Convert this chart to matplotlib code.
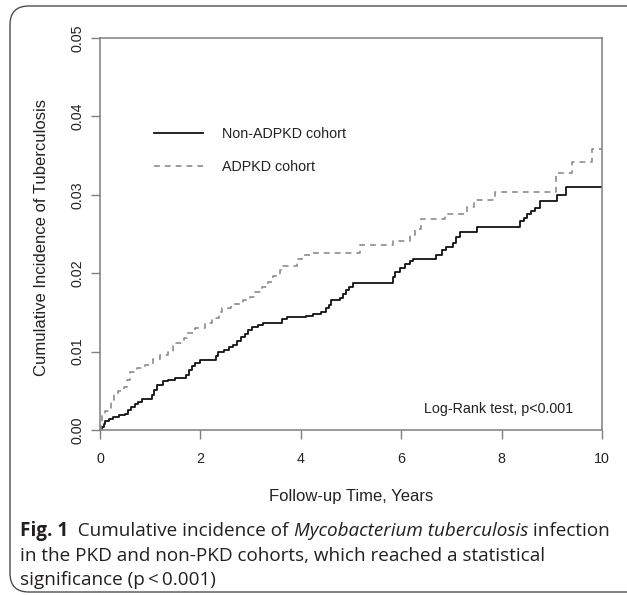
import matplotlib
matplotlib.use('Agg')
import matplotlib.pyplot as plt
from matplotlib.patches import FancyBboxPatch

# cumulative incidence of tuberculosis
non_adpkd_t = [0, 0.03, 0.07, 0.10, 0.18, 0.26, 0.38, 0.50, 0.56, 0.62, 0.70, 0.76, 0.84,
               1.04, 1.08, 1.13, 1.25, 1.36, 1.50, 1.72, 1.78, 1.84, 1.90, 2.00, 2.32,
               2.36, 2.48, 2.56, 2.65, 2.72, 2.80, 2.88, 2.95, 3.03, 3.15, 3.25, 3.62,
               3.72, 4.10, 4.25, 4.40, 4.50, 4.56, 4.60, 4.78, 4.84, 4.90, 4.96, 5.04,
               5.84, 5.87, 5.98, 6.08, 6.18, 6.24, 6.70, 6.82, 6.90, 7.03, 7.10, 7.17,
               7.51, 8.37, 8.44, 8.50, 8.58, 8.66, 8.76, 9.10, 9.28, 10.0]
non_adpkd_y = [0, 0.0004, 0.0008, 0.0011, 0.0014, 0.0017, 0.0019, 0.0021, 0.0025, 0.0029,
               0.0033, 0.0036, 0.0040, 0.0045, 0.0051, 0.0058, 0.0062, 0.0064, 0.0066,
               0.0070, 0.0077, 0.0081, 0.0085, 0.0089, 0.0094, 0.0099, 0.0102, 0.0106,
               0.0109, 0.0114, 0.0118, 0.0123, 0.0127, 0.0131, 0.0134, 0.0137, 0.0141,
               0.0144, 0.0146, 0.0148, 0.0151, 0.0155, 0.0159, 0.0166, 0.0168, 0.0174,
               0.0178, 0.0183, 0.0188, 0.0195, 0.0202, 0.0207, 0.0212, 0.0215, 0.0218,
               0.0223, 0.0229, 0.0234, 0.0239, 0.0246, 0.0253, 0.0259, 0.0267, 0.0271,
               0.0275, 0.0279, 0.0283, 0.0292, 0.0300, 0.0310, 0.0310]

adpkd_t = [0, 0.01, 0.04, 0.10, 0.17, 0.22, 0.27, 0.35, 0.47, 0.53, 0.60, 0.73, 0.90,
           1.06, 1.20, 1.36, 1.46, 1.68, 1.73, 1.90, 2.10, 2.23, 2.38, 2.43, 2.60, 2.85,
           2.99, 3.09, 3.23, 3.35, 3.45, 3.59, 3.65, 3.92, 4.02, 4.18, 5.18, 5.84, 6.17,
           6.28, 6.40, 6.88, 7.31, 7.45, 7.87, 9.08, 9.40, 9.80, 10.0]
adpkd_y = [0, 0.0009, 0.0020, 0.0024, 0.0028, 0.0036, 0.0045, 0.0050, 0.0055, 0.0064,
           0.0074, 0.0079, 0.0083, 0.0090, 0.0096, 0.0100, 0.0111, 0.0117, 0.0124,
           0.0130, 0.0136, 0.0143, 0.0150, 0.0156, 0.0161, 0.0166, 0.0170, 0.0176,
           0.0183, 0.0189, 0.0197, 0.0204, 0.0209, 0.0218, 0.0223, 0.0226, 0.0236,
           0.0241, 0.0249, 0.0257, 0.0269, 0.0276, 0.0285, 0.0294, 0.0304, 0.0328,
           0.0342, 0.0358, 0.0358]

x_ticks = [0, 2, 4, 6, 8, 10]
y_ticks = [0.00, 0.01, 0.02, 0.03, 0.04, 0.05]
y_tick_labels = ['0.00', '0.01', '0.02', '0.03', '0.04', '0.05']
series_labels = ['Non-ADPKD cohort', 'ADPKD cohort']

W, H = 627, 595
fig = plt.figure(figsize=(W / 100, H / 100), dpi=100)

# rounded frame around figure + caption (runs off the right edge)
frame = FancyBboxPatch((10 / W, 3 / H), 640 / W, 586 / H,
                       boxstyle='round,pad=0,rounding_size=0.03',
                       transform=fig.transFigure, fill=False,
                       edgecolor='#4d4d4d', lw=1.0, mutation_aspect=W / H)
fig.patches.append(frame)

plot_font = 'Liberation Sans'
fs = 10.3
lab_fs = 12.0
grey = '#7f7f7f'
ink = '#222222'

ax = fig.add_axes([100 / W, 1 - 430 / H, 502 / W, 392 / H])
ax.step(non_adpkd_t, non_adpkd_y, where='post', color='#111111', lw=1.3,
        label=series_labels[0])
ax.step(adpkd_t, adpkd_y, where='post', color='#8c8c8c', lw=1.2,
        linestyle=(0, (3.5, 3.0)), label=series_labels[1])

ax.set_xlim(0, 10)
ax.set_ylim(0, 0.05)
ax.set_xticks(x_ticks)
ax.set_xticklabels([str(v) for v in x_ticks], fontfamily=plot_font, fontsize=fs,
                   color=ink)
ax.set_yticks(y_ticks)
ax.set_yticklabels(y_tick_labels, fontfamily=plot_font, fontsize=fs,
                   color=ink, rotation=90, va='center')
ax.tick_params(direction='out', length=6.5, width=1.0, color=grey)
ax.tick_params(axis='x', pad=9)
ax.tick_params(axis='y', pad=5)
for s in ax.spines.values():
    s.set_color(grey)
    s.set_linewidth(1.1)

leg = ax.legend(loc='upper left', bbox_to_anchor=(0.094, 0.79), frameon=False,
                prop={'family': plot_font, 'size': fs}, handlelength=3.4,
                handletextpad=1.35, labelspacing=1.3, borderpad=0)
for t in leg.get_texts():
    t.set_color(ink)

ax.text(0.942, 0.054, 'Log-Rank test, p<0.001', transform=ax.transAxes,
        ha='right', va='center', fontfamily=plot_font, fontsize=fs, color=ink)

fig.text(351 / W, 1 - 497 / H, 'Follow-up Time, Years', ha='center', va='center',
         fontfamily=plot_font, fontsize=lab_fs, color=ink)
fig.text(42 / W, 1 - 238 / H, 'Cumulative Incidence of Tuberculosis', ha='center',
         va='center', rotation=90, fontfamily=plot_font, fontsize=lab_fs, color=ink)

# caption, pieces placed one after the other
cap_font = 'Open Sans'
cap_fs = 13.6
cap_lines = [
    [('Fig. 1', 'bold', 'normal'), ('  Cumulative incidence of ', 'normal', 'normal'),
     ('Mycobacterium tuberculosis', 'normal', 'italic'), (' infection', 'normal', 'normal')],
    [('in the PKD and non-PKD cohorts, which reached a statistical', 'normal', 'normal')],
    [('significance (p\u2009<\u20090.001)', 'normal', 'normal')],
]
cap_y = [531, 556, 580]

fig.canvas.draw()
renderer = fig.canvas.get_renderer()
for line, yy in zip(cap_lines, cap_y):
    x = 20
    for txt, weight, style in line:
        t = fig.text(x / W, 1 - yy / H, txt, ha='left', va='center',
                     fontfamily=[cap_font, 'DejaVu Sans'], fontsize=cap_fs,
                     fontweight=weight, fontstyle=style, color='#231f20')
        bb = t.get_window_extent(renderer)
        x += bb.width

fig.savefig('out.png', dpi=100)
